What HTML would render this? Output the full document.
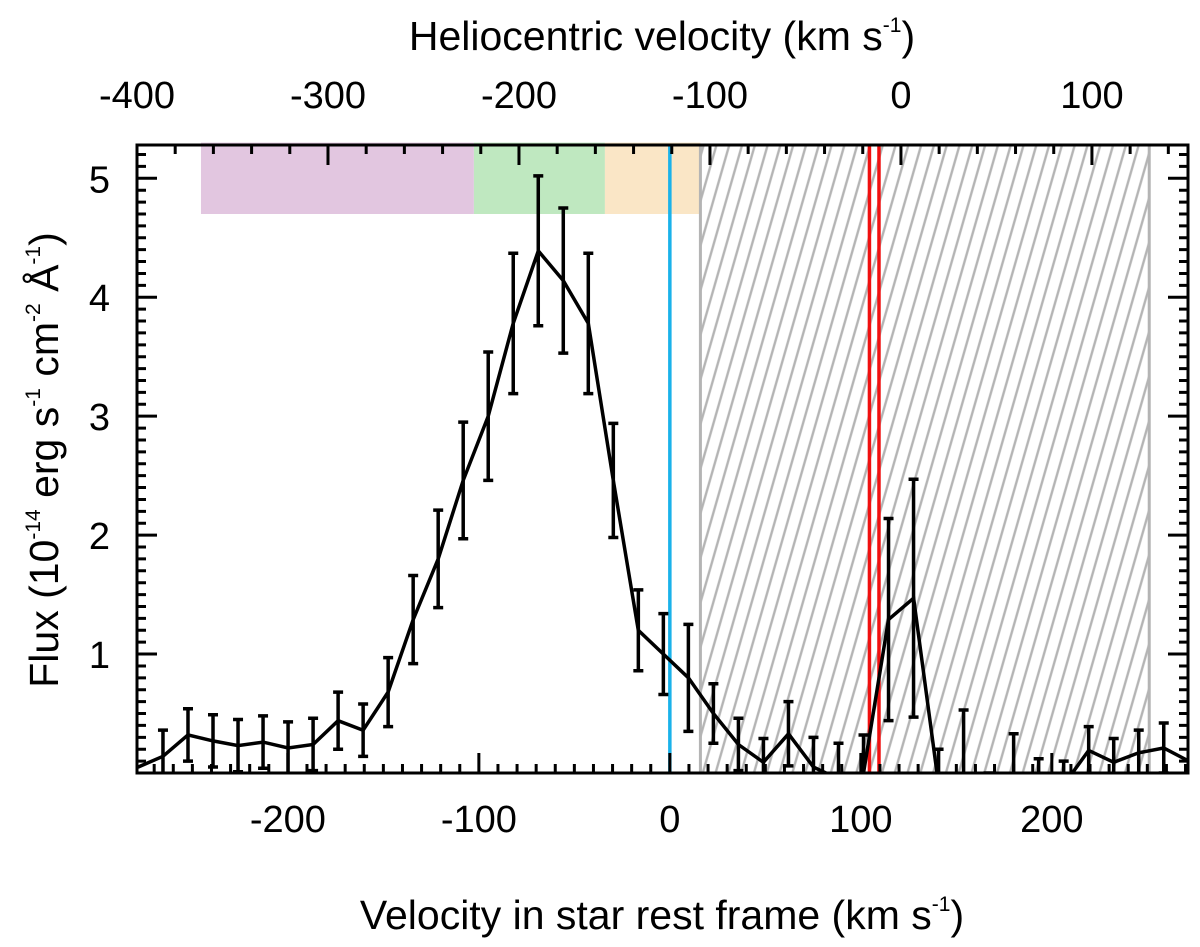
<!DOCTYPE html>
<html><head><meta charset="utf-8"><style>
html,body{margin:0;padding:0;background:#fff;}
svg{display:block;font-family:"Liberation Sans",Arial,sans-serif;}
</style></head><body>
<svg id="chart" width="1200" height="947" viewBox="0 0 1200 947" xmlns="http://www.w3.org/2000/svg">
<defs>
<clipPath id="plotclip"><rect x="137" y="145" width="1051" height="628"/></clipPath>
<pattern id="hatch" patternUnits="userSpaceOnUse" width="12.3" height="30" patternTransform="rotate(16)">
<line x1="3" y1="0" x2="3" y2="30" stroke="#b4b4b4" stroke-width="2.4"/>
</pattern>
</defs>
<g id="bands"></g>
<g id="series" clip-path="url(#plotclip)"></g>
<g id="axes"></g>
<text x="662" y="50" font-size="41" text-anchor="middle">Heliocentric velocity (km s<tspan font-size="21" dy="-18">-1</tspan><tspan dy="18">)</tspan></text>
<text x="662" y="929" font-size="41" text-anchor="middle">Velocity in star rest frame (km s<tspan font-size="21" dy="-18">-1</tspan><tspan dy="18">)</tspan></text>
<text transform="translate(58,460) rotate(-90)" font-size="41" text-anchor="middle">Flux (10<tspan font-size="21" dy="-18">-14</tspan><tspan dy="18"> erg s</tspan><tspan font-size="21" dy="-18">-1</tspan><tspan dy="18"> cm</tspan><tspan font-size="21" dy="-18">-2</tspan><tspan dy="18"> Å</tspan><tspan font-size="21" dy="-18">-1</tspan><tspan dy="18">)</tspan></text>
</svg>
<script>
const velocities = [-278.5,-265.4,-252.3,-239.2,-226.1,-213.0,-199.9,-186.8,-173.7,-160.6,-147.5,-134.4,-121.3,-108.2,-95.1,-82.0,-68.9,-55.8,-42.7,-29.6,-16.5,-3.4,9.7,22.8,35.9,49.0,62.1,75.2,88.3,101.4,114.5,127.6,140.7,153.8,166.9,180.0,193.1,206.2,219.3,232.4,245.5,258.6,271.7];
const flux = [0.05,0.14,0.32,0.27,0.23,0.26,0.21,0.24,0.44,0.36,0.68,1.29,1.80,2.46,3.00,3.78,4.39,4.14,3.78,2.46,1.20,1.00,0.80,0.50,0.24,0.09,0.33,0.05,-0.05,0.0,1.29,1.47,-0.1,-0.3,-0.2,0.0,-0.1,-0.1,0.19,0.09,0.17,0.21,0.10];
const errors = [0,0.22,0.22,0.22,0.22,0.22,0.22,0.22,0.24,0.22,0.29,0.37,0.41,0.49,0.54,0.59,0.63,0.61,0.59,0.48,0.34,0.34,0.45,0.25,0.22,0.2,0.27,0.25,0.3,0.32,0.85,1.0,0.3,0.83,0.2,0.33,0.22,0.2,0.2,0.2,0.19,0.21,0];
const bandNames = ['band-purple','band-green','band-orange'];
const bandStarts = [-245.5,-102.6,-34];
const bandEnds = [-102.6,-34,16];
const bandColors = ['#e2c6e0','#bfe8c0','#fae6c6'];
const hatchRange = [16,251];
const cyanLine = 0;
const redLines = [104.5,109.5];
const bottomTicks = [-200,-100,0,100,200];
const topTicks = [-400,-300,-200,-100,0,100];
const yTicks = [1,2,3,4,5];
const helioOffset = 121;

const X0=137,X1=1188,Y0=773,Y1=145;
const xMin=-279,xMax=271.3,yMin=0,yMax=5.28;
const sx=v=>X0+(v-xMin)/(xMax-xMin)*(X1-X0);
const sy=f=>Y0-(f-yMin)/(yMax-yMin)*(Y0-Y1);
const NS='http://www.w3.org/2000/svg';
function mk(tag,attrs,parent){const e=document.createElementNS(NS,tag);for(const k in attrs)e.setAttribute(k,attrs[k]);parent.appendChild(e);return e;}
const bands=document.getElementById('bands'),series=document.getElementById('series'),axes=document.getElementById('axes');

for(let i=0;i<bandStarts.length;i++){
  const r=mk('rect',{x:sx(bandStarts[i]),y:sy(5.30),width:sx(bandEnds[i])-sx(bandStarts[i]),height:sy(4.70)-sy(5.30),fill:bandColors[i]},bands);
  
  
}
const hr=mk('rect',{x:sx(hatchRange[0]),y:Y1,width:sx(hatchRange[1])-sx(hatchRange[0]),height:Y0-Y1,fill:'url(#hatch)'},bands);


for(const v of hatchRange){
  const l=mk('line',{x1:sx(v),x2:sx(v),y1:Y1,y2:Y0,stroke:'#b4b4b4','stroke-width':3},bands);
  
  
}
const cl=mk('line',{x1:sx(cyanLine),x2:sx(cyanLine),y1:Y1,y2:Y0,stroke:'#1ab2ea','stroke-width':3.5},bands);


for(const v of redLines){
  const l=mk('line',{x1:sx(v),x2:sx(v),y1:Y1,y2:Y0,stroke:'#f01010','stroke-width':3.5},bands);
  
  
}

let d='';
velocities.forEach((v,i)=>{d+=(i?'L':'M')+sx(v).toFixed(1)+','+sy(flux[i]).toFixed(1);});
const path=mk('path',{d:d,fill:'none',stroke:'#000','stroke-width':3.5,'stroke-linejoin':'miter'},series);


velocities.forEach((v,i)=>{
  if(!errors[i])return;
  const x=sx(v),t=sy(flux[i]+errors[i]),b=sy(flux[i]-errors[i]);
  const g=mk('path',{d:`M${x},${t}L${x},${b}M${x-5},${t}L${x+5},${t}M${x-5},${b}L${x+5},${b}`,stroke:'#000','stroke-width':3.5,fill:'none'},series);
  
  
});

const frame=mk('rect',{x:X0,y:Y1,width:X1-X0,height:Y0-Y1,fill:'none',stroke:'#000','stroke-width':3},axes);


let tk='';
for(let v=-270;v<=270;v+=10){const x=sx(v);const L=(v%100===0)?20:9;tk+=`M${x},${Y0}L${x},${Y0-L}`;}
for(let h=-400;h<=150;h+=20){const x=sx(h+helioOffset);if(x<X0-1||x>X1+1)continue;const L=(h%100===0)?20:9;tk+=`M${x},${Y1}L${x},${Y1+L}`;}
for(let f=0.1;f<=5.28;f+=0.1){const y=sy(f);const L=(Math.abs(f-Math.round(f))<0.01)?20:9;tk+=`M${X0},${y}L${X0+L},${y}M${X1},${y}L${X1-L},${y}`;}
const ticks=mk('path',{d:tk,stroke:'#000','stroke-width':3,fill:'none'},axes);


bottomTicks.forEach(v=>{
  const t=mk('text',{x:sx(v),y:832,'font-size':38,'text-anchor':'middle'},axes);t.textContent=v;
  
  
});
topTicks.forEach(h=>{
  const t=mk('text',{x:sx(h+helioOffset),y:108,'font-size':38,'text-anchor':'middle'},axes);t.textContent=h;
  
  
});
yTicks.forEach(f=>{
  const t=mk('text',{x:110,y:sy(f)+14,'font-size':38,'text-anchor':'end'},axes);t.textContent=f;
  
  
});
</script>
</body></html>
